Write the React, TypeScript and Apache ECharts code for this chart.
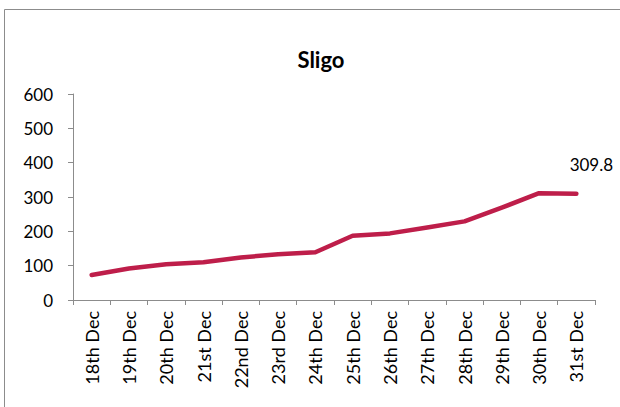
import React, { useEffect, useRef } from "react";
import * as echarts from "echarts";

const categories = [
  "18th Dec", "19th Dec", "20th Dec", "21st Dec", "22nd Dec", "23rd Dec", "24th Dec",
  "25th Dec", "26th Dec", "27th Dec", "28th Dec", "29th Dec", "30th Dec", "31st Dec",
];
const values = [73, 92, 104, 110, 124, 133, 139, 187, 194, 211, 229, 269, 311, 309.8];
const yTicks = { min: 0, max: 600, interval: 100 };
const title = "Sligo";

export default function App() {
  const ref = useRef<HTMLDivElement>(null);
  useEffect(() => {
    if (!ref.current) return;
    const chart = echarts.init(ref.current, null, { renderer: "svg" });
    const font = "Lato, 'Open Sans', sans-serif";
    const lineColor = "#be1e4a";
    const data = values.map((v, i) =>
      i === values.length - 1
        ? {
            value: v,
            symbol: "circle",
            symbolSize: 2,
            label: {
              show: true,
              position: "top",
              distance: 5,
              offset: [15, -15],
              fontSize: 17,
              color: "#000",
              fontFamily: font,
            },
          }
        : { value: v, symbol: "none" }
    );
    chart.setOption({
      animation: false,
      backgroundColor: "#fff",
      title: {
        text: title,
        left: 316,
        top: 43,
        textAlign: "center",
        textStyle: { fontSize: 22, fontWeight: "bold", color: "#000", fontFamily: font },
      },
      graphic: [
        {
          type: "rect",
          shape: { x: 4.5, y: 9.5, width: 640, height: 420 },
          style: { fill: "none", stroke: "#8c8c8c", lineWidth: 1 },
          silent: true,
        },
      ],
      grid: { left: 73, top: 94, right: 25, bottom: 107, containLabel: false },
      xAxis: {
        type: "category",
        data: categories,
        boundaryGap: true,
        axisLine: { show: true, lineStyle: { color: "#8c8c8c", width: 1 } },
        axisTick: { show: true, length: 5, alignWithLabel: false, lineStyle: { color: "#8c8c8c" } },
        axisLabel: {
          rotate: 90,
          interval: 0,
          fontSize: 18,
          color: "#000",
          fontFamily: font,
          margin: 11,
        },
        splitLine: { show: false },
      },
      yAxis: {
        type: "value",
        min: yTicks.min,
        max: yTicks.max,
        interval: yTicks.interval,
        axisLine: { show: true, lineStyle: { color: "#8c8c8c", width: 1 } },
        axisTick: { show: true, length: 5, lineStyle: { color: "#8c8c8c" } },
        axisLabel: { fontSize: 17, color: "#000", fontFamily: font, margin: 20 },
        splitLine: { show: false },
      },
      series: [
        {
          type: "line",
          data,
          showSymbol: true,
          symbol: "none",
          lineStyle: { color: lineColor, width: 4.5, cap: "round", join: "round" },
          itemStyle: { color: lineColor },
        },
      ],
    });
    return () => chart.dispose();
  }, []);
  return <div ref={ref} style={{ width: 620, height: 407, position: "absolute", left: 0, top: 0 }} />;
}
